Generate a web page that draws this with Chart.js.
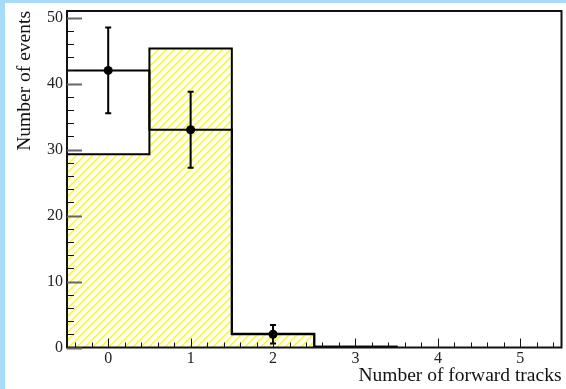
<!DOCTYPE html>
<html>
<head>
<meta charset="utf-8">
<script src="https://cdn.jsdelivr.net/npm/chart.js@4.4.1/dist/chart.umd.min.js"></script>
<style>
  html, body { margin: 0; padding: 0; background: #a6dbfc; }
  #wrap { position: absolute; left: 5px; top: 3px; width: 561px; height: 386px; background: #fff; }
</style>
</head>
<body>
<div id="wrap"><canvas id="chart"></canvas></div>
<script>
// bins of the histograms (bin centers, width 1)
const binCenters = [0, 1, 2, 3];
const hatchedHist = [29.3, 45.3, 2.1, 0.1];
const lineHist = [42, 33, 2, 0.1];
// measured points with errors
const dataX = [0, 1, 2];
const dataY = [42, 33, 2];
const dataErr = [6.5, 5.75, 1.4];
const xTicks = [0, 1, 2, 3, 4, 5];
const yTicks = [0, 10, 20, 30, 40, 50];

const serif = "'Liberation Serif', 'Times New Roman', serif";

function stepPoints(values) {
  const pts = values.map((v, i) => ({ x: binCenters[i] - 0.5, y: v }));
  pts.push({ x: binCenters[binCenters.length - 1] + 0.5, y: 0 });
  return pts;
}

function hatch(ctx) {
  const c = document.createElement('canvas');
  c.width = 8; c.height = 8;
  const g = c.getContext('2d');
  g.strokeStyle = 'rgb(255,250,0)';
  g.lineWidth = 1.4;
  g.beginPath();
  g.moveTo(-1, 9); g.lineTo(9, -1);
  g.moveTo(-2, 2); g.lineTo(2, -2);
  g.moveTo(6, 10); g.lineTo(10, 6);
  g.stroke();
  return ctx.createPattern(c, 'repeat');
}

// ROOT style frame, inside ticks and error bars
const rootDecor = {
  id: 'rootDecor',
  afterDatasetsDraw(chart) {
    const { ctx, chartArea: a, scales: { x, y } } = chart;
    ctx.save();
    // error bars
    ctx.strokeStyle = '#000';
    ctx.lineWidth = 2;
    dataX.forEach((vx, i) => {
      const px = x.getPixelForValue(vx);
      const top = y.getPixelForValue(dataY[i] + dataErr[i]);
      const bot = y.getPixelForValue(dataY[i] - dataErr[i]);
      ctx.beginPath();
      ctx.moveTo(px, top); ctx.lineTo(px, bot);
      ctx.moveTo(px - 3, top); ctx.lineTo(px + 3, top);
      ctx.moveTo(px - 3, bot); ctx.lineTo(px + 3, bot);
      ctx.stroke();
    });
    // frame
    ctx.strokeStyle = '#111';
    ctx.lineWidth = 2;
    ctx.strokeRect(a.left, a.top, a.right - a.left, a.bottom - a.top);
    // y ticks every 2, major every 10
    for (let v = 0; v <= 50; v += 2) {
      const py = Math.round(y.getPixelForValue(v)) + 0.5;
      const major = v % 10 === 0;
      ctx.strokeStyle = major ? '#666' : '#111';
      ctx.lineWidth = major ? 2 : 1;
      ctx.beginPath();
      ctx.moveTo(a.left, py);
      ctx.lineTo(a.left + (major ? 15 : 7), py);
      ctx.stroke();
    }
    // x ticks every 0.2, major every 1
    ctx.strokeStyle = '#111';
    ctx.lineWidth = 1;
    for (let k = -2; k <= 27; k++) {
      const px = Math.round(x.getPixelForValue(k * 0.2)) + 0.5;
      const major = k % 5 === 0;
      ctx.beginPath();
      ctx.moveTo(px, a.bottom);
      ctx.lineTo(px, a.bottom - (major ? 9 : 5));
      ctx.stroke();
    }
    ctx.restore();
  }
};

const canvas = document.getElementById('chart');
const ctx = canvas.getContext('2d');

new Chart(ctx, {
  type: 'line',
  data: {
    datasets: [
      {
        label: 'data',
        data: dataX.map((vx, i) => ({ x: vx, y: dataY[i] })),
        showLine: false,
        pointRadius: 4.5,
        pointBackgroundColor: '#000',
        pointBorderWidth: 0
      },
      {
        label: 'line',
        data: stepPoints(lineHist),
        stepped: 'before',
        borderColor: '#000',
        borderWidth: 2,
        pointRadius: 0,
        fill: false
      },
      {
        label: 'hatched',
        data: stepPoints(hatchedHist),
        stepped: 'before',
        borderColor: '#000',
        borderWidth: 2,
        pointRadius: 0,
        backgroundColor: hatch(ctx),
        fill: 'origin'
      }
    ]
  },
  options: {
    responsive: true,
    maintainAspectRatio: false,
    animation: false,
    layout: { padding: { top: 8, right: 2, left: 0, bottom: 0 } },
    plugins: { legend: { display: false }, tooltip: { enabled: false } },
    scales: {
      x: {
        type: 'linear', min: -0.5, max: 5.5,
        afterBuildTicks: s => { s.ticks = xTicks.map(v => ({ value: v })); },
        afterFit: s => { s.height = 41.5; s.paddingLeft = 0; s.paddingRight = 0; },
        grid: { display: false, drawTicks: false },
        border: { display: false },
        ticks: { padding: 2, color: '#222', maxRotation: 0, font: { family: serif, size: 16 } },
        title: {
          display: true, text: 'Number of forward tracks', align: 'end', color: '#111',
          font: { family: serif, size: 19.5 }, padding: { top: 0, bottom: 1 }
        }
      },
      y: {
        min: 0, max: 51,
        afterBuildTicks: s => { s.ticks = yTicks.map(v => ({ value: v })); },
        afterFit: s => { s.width = 62; s.paddingTop = 0; s.paddingBottom = 0; },
        grid: { display: false, drawTicks: false },
        border: { display: false },
        ticks: { padding: 4, color: '#222', font: { family: serif, size: 16 } },
        title: {
          display: true, text: 'Number of events', align: 'end', color: '#111',
          font: { family: serif, size: 19.5 }, padding: { top: 8, bottom: 0 }
        }
      }
    }
  },
  plugins: [rootDecor]
});
</script>
</body>
</html>
